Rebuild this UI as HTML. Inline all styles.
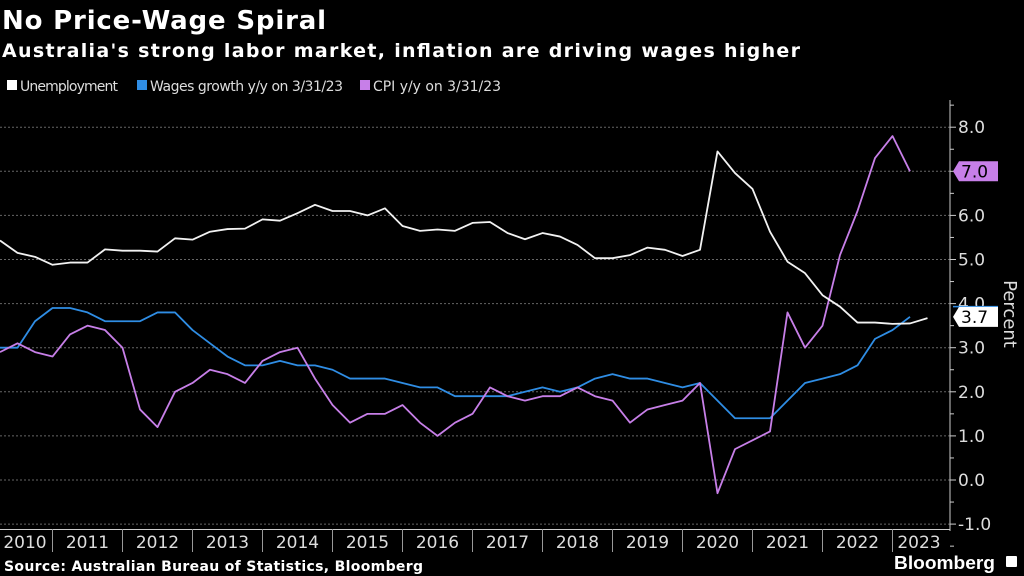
<!DOCTYPE html>
<html><head><meta charset="utf-8">
<style>
html,body{margin:0;padding:0;background:#000;width:1024px;height:576px;overflow:hidden}
svg{display:block;font-family:"DejaVu Sans","Liberation Sans",sans-serif}
</style></head>
<body>
<svg id="chart" width="1024" height="576" viewBox="0 0 1024 576">
  <text x="2" y="29" fill="#fff" font-size="26" font-weight="bold" textLength="324">No Price-Wage Spiral</text>
  <text x="2" y="57" fill="#fff" font-size="19" font-weight="bold" textLength="798">Australia's strong labor market, inflation are driving wages higher</text>
  <g font-size="14" fill="#ddd">
    <g><rect x="7" y="80" width="10" height="10" fill="#fff"/><text x="20" y="91" textLength="98">Unemployment</text></g>
    <g><rect x="137" y="80" width="10" height="10" fill="#2f8de4"/><text x="150" y="91" textLength="193">Wages growth y/y on 3/31/23</text></g>
    <g><rect x="360" y="80" width="10" height="10" fill="#c77fe8"/><text x="373" y="91" textLength="128">CPI y/y on 3/31/23</text></g>
  </g>
  <g id="grid"></g>
  <g id="yaxis"></g>
  <g id="xaxis"></g>
  <g id="series"></g>
  <text transform="translate(1004,314) rotate(90)" fill="#ddd" font-size="18" text-anchor="middle">Percent</text>
  <text x="4" y="571" fill="#fff" font-size="14" font-weight="bold" textLength="419">Source: Australian Bureau of Statistics, Bloomberg</text>
  <g>
    <text x="894" y="569" fill="#fff" font-size="18" style="font-family:'Liberation Sans',sans-serif" font-weight="bold" textLength="101" lengthAdjust="spacingAndGlyphs">Bloomberg</text>
    <rect x="1006" y="556" width="11" height="11" rx="1" fill="#fff"/>
  </g>
</svg>
<script>
const unemployment = [5.43,5.15,5.06,4.88,4.93,4.93,5.23,5.2,5.2,5.18,5.48,5.45,5.63,5.69,5.7,5.91,5.88,6.05,6.24,6.1,6.1,6.0,6.16,5.76,5.65,5.68,5.65,5.83,5.85,5.6,5.46,5.6,5.52,5.33,5.03,5.03,5.1,5.27,5.22,5.08,5.22,7.45,6.96,6.6,5.63,4.95,4.69,4.19,3.93,3.57,3.57,3.54,3.55,3.67];
const wages = [3.0,3.0,3.6,3.9,3.9,3.8,3.6,3.6,3.6,3.8,3.8,3.4,3.1,2.8,2.6,2.6,2.7,2.6,2.6,2.5,2.3,2.3,2.3,2.2,2.1,2.1,1.9,1.9,1.9,1.9,2.0,2.1,2.0,2.1,2.3,2.4,2.3,2.3,2.2,2.1,2.2,1.8,1.4,1.4,1.4,1.8,2.2,2.3,2.4,2.6,3.2,3.4,3.7];
const cpi = [2.9,3.1,2.9,2.8,3.3,3.5,3.4,3.0,1.6,1.2,2.0,2.2,2.5,2.4,2.2,2.7,2.9,3.0,2.3,1.7,1.3,1.5,1.5,1.7,1.3,1.0,1.3,1.5,2.1,1.9,1.8,1.9,1.9,2.1,1.9,1.8,1.3,1.6,1.7,1.8,2.2,-0.3,0.7,0.9,1.1,3.8,3.0,3.5,5.1,6.1,7.3,7.8,7.0];
const yTicks = [-1,0,1,2,3,4,5,6,7,8];
const yearLabels = ["2010","2011","2012","2013","2014","2015","2016","2017","2018","2019","2020","2021","2022","2023"];

const NS = "http://www.w3.org/2000/svg";
const AX = 950;
function yS(v){ return 480 - 44.1*v; }
function xQ(i){ return i*17.5; }
function xYear(y){ return (y - 2010.25)*70; }
function mk(tag, attrs, parent){ const e=document.createElementNS(NS,tag); for(const k in attrs) e.setAttribute(k,attrs[k]); parent.appendChild(e); return e; }

const grid=document.getElementById('grid'), yax=document.getElementById('yaxis'), xax=document.getElementById('xaxis'), ser=document.getElementById('series');
yTicks.forEach(v=>{
  const g=mk('line',{x1:0,x2:AX,y1:yS(v),y2:yS(v),stroke:'#666','stroke-width':1,'stroke-dasharray':'2,2'},grid);
  
  
  mk('line',{x1:AX,x2:AX+6,y1:yS(v),y2:yS(v),stroke:'#ccc'},yax);
  const t=mk('text',{x:AX+8,y:yS(v)+6,fill:'#ddd','font-size':17},yax);
  t.textContent=v.toFixed(1);
  
  
});
for(let v=-1.5; v<=8.5; v+=1){ mk('line',{x1:AX,x2:AX+4,y1:yS(v),y2:yS(v),stroke:'#ccc'},yax); }
mk('line',{x1:AX,x2:AX,y1:100,y2:531,stroke:'#ccc'},yax);

mk('line',{x1:0,x2:AX,y1:529.5,y2:529.5,stroke:'#ccc'},xax);
yearLabels.forEach((lab,k)=>{
  const yr=+lab;
  if(k>0) mk('line',{x1:xYear(yr),x2:xYear(yr),y1:529,y2:552,stroke:'#999'},xax);
  let cx = xYear(yr+0.5);
  if(k===0) cx = 25;
  if(k===yearLabels.length-1) cx = 919;
  const t=mk('text',{x:cx,y:548,fill:'#ddd','font-size':17,'text-anchor':'middle'},xax);
  t.textContent=lab;
  
  
});

function line(data,color,name){
  const p=mk('polyline',{points:data.map((v,i)=>xQ(i)+','+yS(v)).join(' '),fill:'none',stroke:color,'stroke-width':1.8,'stroke-linejoin':'round'},ser);
  
  
}
line(wages,'#2f8de4','wages-line');
line(cpi,'#c77fe8','cpi-line');
line(unemployment,'#f2f2f2','unemployment-line');

function tag(v,bg,fg,name){
  const y=yS(v), g=mk('g',{},ser);
  
  
  mk('polygon',{points:`${AX+3},${y} ${AX+9},${y-10} ${AX+48},${y-10} ${AX+48},${y+10} ${AX+9},${y+10}`,fill:bg},g);
  const t=mk('text',{x:AX+11,y:y+6,fill:fg,'font-size':17},g);
  t.textContent=v.toFixed(1);
}
tag(cpi[cpi.length-1],'#c77fe8','#000','cpi-value-label');
mk('line',{x1:AX+3,x2:AX+48,y1:yS(3.93),y2:yS(3.93),stroke:'#2f8de4','stroke-width':1.5},ser);
tag(wages[wages.length-1],'#fff','#000','unemployment-value-label');
</script>
</body></html>
